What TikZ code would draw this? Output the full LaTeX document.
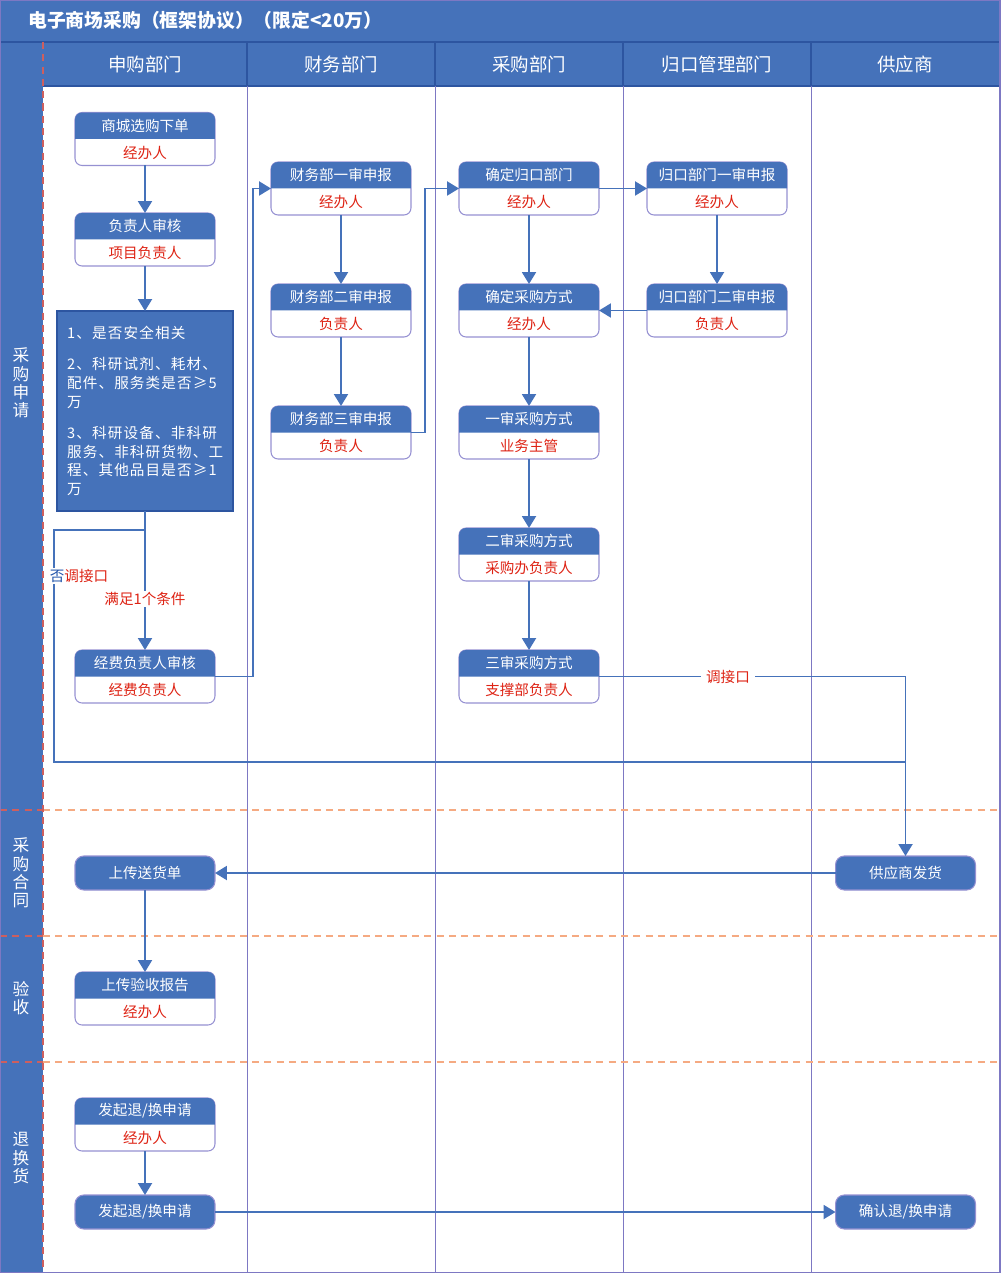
\documentclass[tikz,border=0pt]{standalone}
\usepackage{fontspec}
\setmainfont{Noto Sans CJK SC}
\usepackage{tikz}
\usetikzlibrary{arrows.meta}

\definecolor{cardblue}{RGB}{69,114,186}
\definecolor{darkblue}{RGB}{45,85,160}
\definecolor{cardline}{RGB}{150,145,210}
\definecolor{laneline}{RGB}{125,120,195}
\definecolor{rolered}{RGB}{222,35,20}
\definecolor{phaseline}{RGB}{245,170,130}
\definecolor{stripred}{RGB}{205,95,95}
\definecolor{noblue}{RGB}{35,85,170}

\newcommand{\cardfont}{\fontsize{8.3}{10}\selectfont}

\newcommand{\stepcard}[5]{%
  \node[cardbox] (#1) at (#2,#3) {};
  \fill[cardblue] (#1.west) -- ([yshift=-4pt]#1.north west)
    arc[start angle=180, end angle=90, radius=4pt]
    -- ([xshift=-4pt]#1.north east)
    arc[start angle=90, end angle=0, radius=4pt] -- (#1.east) -- cycle;
  \node[cardtitle] (#1t) at (#2,#3-13.5) {#4};
  \node[cardrole] (#1r) at (#2,#3+13.5) {#5};
}

\begin{document}
\begin{tikzpicture}[x=0.02cm, y=-0.02cm,
    cardbox/.style={draw=cardline, fill=white, rounded corners=4pt, minimum width=2.8cm,
      minimum height=1.06cm, inner sep=0pt, outer sep=0pt, line width=0.6pt},
    cardtitle/.style={text=white, inner sep=0pt, font=\cardfont},
    cardrole/.style={text=rolered, inner sep=0pt, font=\cardfont},
    onebox/.style={draw=cardline, fill=cardblue, rounded corners=5pt, minimum width=2.8cm,
      minimum height=0.68cm, inner sep=0pt, outer sep=0pt, line width=0.6pt, text=white, font=\cardfont},
    condbox/.style={draw=darkblue, fill=cardblue, text=white, align=left, text width=3.12cm,
      inner xsep=0.2cm, minimum height=4cm, outer sep=0pt, line width=0.6pt,
      font={\fontsize{8.3}{10.8}\selectfont\addfontfeature{LetterSpace=8}}},
    flow/.style={draw=cardblue, line width=1pt, -{Triangle[length=6.8pt,width=8pt]}},
    link/.style={draw=cardblue, line width=1pt},
    lanerule/.style={draw=laneline, line width=0.5pt},
    phasecut/.style={draw=phaseline, dash pattern=on 4pt off 3pt, line width=0.6pt},
    lanehead/.style={text=white, font=\fontsize{10.5}{12}\selectfont},
    phasehead/.style={text=white, align=center, inner sep=0pt, font=\fontsize{9.5}{10.5}\selectfont},
    notelabel/.style={fill=white, inner xsep=3pt, inner ysep=1pt, font=\cardfont}
  ]
  \useasboundingbox (0,0) rectangle (1000,1273);

  \fill[cardblue] (0,0) rectangle (1000,42);
  \fill[cardblue] (0,42) rectangle (43,1273);
  \fill[cardblue] (43,42) rectangle (1000,86);
  \draw[darkblue, line width=0.6pt] (0,42) -- (1000,42);
  \draw[darkblue, line width=0.6pt] (43,86) -- (1000,86);
  \foreach \x in {247,435,623,811}
    \draw[darkblue, line width=0.6pt] (\x,42) -- (\x,86);
  \foreach \x in {247,435,623,811}
    \draw[lanerule] (\x,86) -- (\x,1273);
  \foreach \y in {810,936,1062} {
    \draw[phasecut] (43,\y) -- (1000,\y);
    \draw[phasecut, draw=stripred] (0,\y) -- (43,\y);
  }
  \draw[phasecut, draw=stripred] (43,42) -- (43,1273);
  \draw[laneline, line width=0.8pt] (0,0) rectangle (1000,1273);

  \node[anchor=west, text=white, font=\fontsize{10.7}{12}\selectfont\bfseries] (title) at (22,20) {电子商场采购（框架协议）（限定<20万）};

  \node[lanehead] (h1) at (145,64) {申购部门};
  \node[lanehead] (h2) at (341,64) {财务部门};
  \node[lanehead] (h3) at (529,64) {采购部门};
  \node[lanehead] (h4) at (717,64) {归口管理部门};
  \node[lanehead] (h5) at (905,64) {供应商};

  \node[phasehead] (p1) at (21,383) {采\\购\\申\\请};
  \node[phasehead] (p2) at (21,873) {采\\购\\合\\同};
  \node[phasehead] (p3) at (21,998) {验\\收};
  \node[phasehead] (p4) at (21,1158) {退\\换\\货};

  \stepcard{A1}{145}{139}{商城选购下单}{经办人}
  \stepcard{A2}{145}{239.5}{负责人审核}{项目负责人}
  \node[condbox] (cond) at (145,411) {1、是否安全相关\\[6.8pt]
    2、科研试剂、耗材、\\配件、服务类是否≥5\\万\\[6.8pt]
    3、科研设备、非科研\\服务、非科研货物、工\\程、其他品目是否≥1\\万};
  \stepcard{A3}{145}{676.5}{经费负责人审核}{经费负责人}
  \stepcard{B1}{341}{188.5}{财务部一审申报}{经办人}
  \stepcard{B2}{341}{310.5}{财务部二审申报}{负责人}
  \stepcard{B3}{341}{432.5}{财务部三审申报}{负责人}
  \stepcard{C1}{529}{188.5}{确定归口部门}{经办人}
  \stepcard{C2}{529}{310.5}{确定采购方式}{经办人}
  \stepcard{C3}{529}{432.5}{一审采购方式}{业务主管}
  \stepcard{C4}{529}{554.5}{二审采购方式}{采购办负责人}
  \stepcard{C5}{529}{676.5}{三审采购方式}{支撑部负责人}
  \stepcard{D1}{717}{188.5}{归口部门一审申报}{经办人}
  \stepcard{D2}{717}{310.5}{归口部门二审申报}{负责人}
  \node[onebox] (E1) at (905.5,873) {供应商发货};
  \node[onebox] (A4) at (145,873) {上传送货单};
  \stepcard{A5}{145}{998.5}{上传验收报告}{经办人}
  \stepcard{A6}{145}{1124.5}{发起退/换申请}{经办人}
  \node[onebox] (A7) at (145,1212) {发起退/换申请};
  \node[onebox] (E2) at (905.5,1212) {确认退/换申请};

  \draw[flow] (A1) -- (A2);
  \draw[flow] (A2) -- (cond);
  \draw[flow] (cond) -- (A3);
  \coordinate (J1) at (145,530);
  \coordinate (K1) at (54,762);
  \coordinate (J2) at (905.5,762);
  \draw[link] (J1) -| (K1) -- (J2);
  \node[notelabel, text=rolered] (yes) at (145,599) {满足1个条件};
  \node[notelabel] (no) at (79,576) {\textcolor{noblue}{否}\textcolor{rolered}{调接口}};
  \draw[flow] (A3.east) -- ++(38,0) |- (B1.west);
  \draw[flow] (B1) -- (B2);
  \draw[flow] (B2) -- (B3);
  \draw[flow] (B3.east) -- ++(14,0) |- (C1.west);
  \draw[flow] (C1) -- (D1);
  \draw[flow] (D1) -- (D2);
  \draw[flow] (D2) -- (C2);
  \draw[flow] (C1) -- (C2);
  \draw[flow] (C2) -- (C3);
  \draw[flow] (C3) -- (C4);
  \draw[flow] (C4) -- (C5);
  \draw[flow] (C5.east) -| (E1.north);
  \node[notelabel, text=rolered] (port) at (728,677) {调接口};
  \draw[flow] (E1) -- (A4);
  \draw[flow] (A4) -- (A5);
  \draw[flow] (A6) -- (A7);
  \draw[flow] (A7) -- (E2);
\end{tikzpicture}
\end{document}
